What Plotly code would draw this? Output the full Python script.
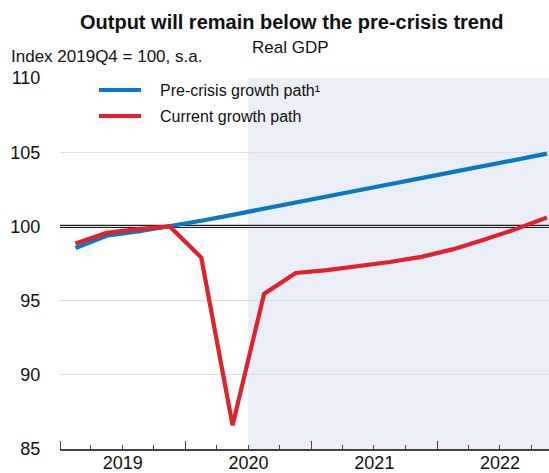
import pandas as pd
import plotly.graph_objects as go

# ---- data ----
quarters = ["2019Q1", "2019Q2", "2019Q3", "2019Q4",
            "2020Q1", "2020Q2", "2020Q3", "2020Q4",
            "2021Q1", "2021Q2", "2021Q3", "2021Q4",
            "2022Q1", "2022Q2", "2022Q3", "2022Q4"]
pre_crisis = [98.55, 99.37, 99.66, 100.0,
              100.38, 100.78, 101.18, 101.6,
              102.0, 102.42, 102.84, 103.25,
              103.66, 104.07, 104.48, 104.9]
current = [98.85, 99.56, 99.82, 100.0,
           97.9, 86.6, 95.45, 96.86,
           97.05, 97.3, 97.6, 97.95,
           98.45, 99.1, 99.8, 100.6]
series_names = ["Pre-crisis growth path¹", "Current growth path"]
series_colors = ["#0b78c1", "#e1212b"]
y_ticks = [85, 90, 95, 100, 105, 110]
title = "Output will remain below the pre-crisis trend"
subtitle = "Real GDP"
y_unit = "Index 2019Q4 = 100, s.a."
forecast_start = "2020-07-01"
x_range = ["2019-01-01", "2022-11-22"]
ref_level = 100

# quarter mid-points as dates
per = pd.PeriodIndex(quarters, freq="Q")
x_dates = per.start_time + (per.end_time - per.start_time) / 2

FONT = "Liberation Sans, Arial, sans-serif"

fig = go.Figure()
for name, vals, col in zip(series_names, [pre_crisis, current], series_colors):
    fig.add_trace(go.Scatter(x=x_dates, y=vals, mode="lines", name=name,
                             line=dict(color=col, width=4.2), showlegend=False))

shapes = [
    # forecast shading
    dict(type="rect", xref="x", yref="paper", x0=forecast_start, x1=x_range[1],
         y0=0, y1=1, fillcolor="#eaeef7", line=dict(width=0), layer="below"),
    # double reference line at 100
    dict(type="line", xref="paper", yref="y", x0=0, x1=1, y0=ref_level + 0.075,
         y1=ref_level + 0.075, line=dict(color="#222", width=1.2), layer="between"),
    dict(type="line", xref="paper", yref="y", x0=0, x1=1, y0=ref_level - 0.075,
         y1=ref_level - 0.075, line=dict(color="#222", width=1.2), layer="between"),
]

# manual legend (paper coordinates)
L, T, B, H = 60, 78, 24, 473
PW = 549 - L
PH = H - T - B
def px_x(px):
    return (px - L) / PW
def px_y(py):
    return (H - B - py) / PH

annotations = []
for i, (name, col) in enumerate(zip(series_names, series_colors)):
    yy = px_y(90 + 26 * i)
    shapes.append(dict(type="line", xref="paper", yref="paper", x0=px_x(99), x1=px_x(141),
                       y0=yy, y1=yy, line=dict(color=col, width=4.2)))
    annotations.append(dict(xref="paper", yref="paper", x=px_x(158), y=yy, text=name,
                            showarrow=False, xanchor="left", yanchor="middle",
                            font=dict(size=16, color="#111", family=FONT)))

annotations += [
    dict(xref="paper", yref="paper", x=px_x(291), y=px_y(22), text="<b>" + title + "</b>",
         showarrow=False, xanchor="center", yanchor="middle",
         font=dict(size=20, color="#111", family=FONT)),
    dict(xref="paper", yref="paper", x=px_x(290), y=px_y(47), text=subtitle,
         showarrow=False, xanchor="center", yanchor="middle",
         font=dict(size=17, color="#111", family=FONT)),
    dict(xref="paper", yref="paper", x=px_x(9), y=px_y(56), text=y_unit,
         showarrow=False, xanchor="left", yanchor="middle",
         font=dict(size=17, color="#111", family=FONT)),
]

fig.update_layout(
    width=549, height=473,
    margin=dict(l=L, r=0, t=T, b=B, pad=0, autoexpand=False),
    paper_bgcolor="white", plot_bgcolor="white",
    font=dict(family=FONT, size=18, color="#111"),
    shapes=shapes, annotations=annotations,
    xaxis=dict(type="date", range=x_range, tick0="2019-01-01", dtick="M12",
               tickformat="%Y", ticklabelmode="period", ticks="inside", ticklen=8,
               tickcolor="#444", tickwidth=1.2, showgrid=False, showline=True,
               linecolor="#444", linewidth=1.5, zeroline=False, automargin=False,
               tickfont=dict(size=18), ticklabelstandoff=-3,
               minor=dict(dtick="M3", tick0="2019-01-01", ticks="inside", ticklen=4,
                          tickcolor="#444", tickwidth=1.2, showgrid=False)),
    yaxis=dict(range=[85, 110], tickvals=y_ticks, showgrid=True, gridcolor="#dedede",
               gridwidth=1, zeroline=False, showline=False, ticks="outside", ticklen=15,
               tickcolor="rgba(0,0,0,0)", tickfont=dict(size=18), automargin=False),
)

fig.write_html("out.html", config={"displayModeBar": False},
               post_script="document.body.style.margin='0';document.body.style.overflow='hidden';")
